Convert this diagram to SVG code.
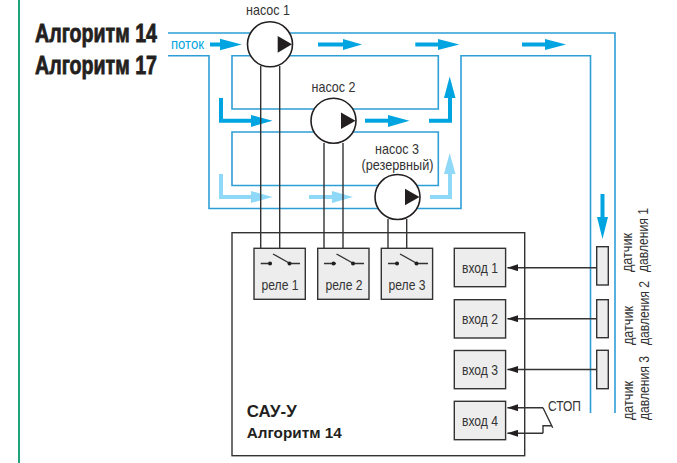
<svg xmlns="http://www.w3.org/2000/svg" width="677" height="463" viewBox="0 0 677 463">
<style>
text{font-family:"Liberation Sans",Arial,sans-serif;fill:#333}
.t{font-size:15px;text-anchor:middle}
.v{font-size:15px}
.title{font-size:25px;font-weight:bold;fill:#231f20;stroke:#231f20;stroke-width:.8}
.pipe{fill:none;stroke:#2e9fd6;stroke-width:1.6}
.wire{fill:none;stroke:#333;stroke-width:1.4}
.box{fill:#ededed;stroke:#333;stroke-width:1.4}
.pump{fill:#fff;stroke:#231f20;stroke-width:1.6}
.tri{fill:#231f20}
.d{fill:#00a4e0}
.l{fill:#8fd8f8}
.fd{fill:none;stroke:#00a4e0;stroke-width:4}
.fl{fill:none;stroke:#8fd8f8;stroke-width:4}
.dot{fill:#231f20}
</style>
<defs>
<marker id="ah" markerUnits="userSpaceOnUse" markerWidth="11" markerHeight="7" refX="10.5" refY="3.5" orient="auto"><path d="M0 0V7L11 3.5Z" fill="#231f20"/></marker>
</defs>
<rect x="18" y="0" width="2" height="463" fill="#1fa37a"/>
<g id="headings">
<text class="title" transform="translate(35 41.5) scale(.8 1)" textLength="152.5" lengthAdjust="spacingAndGlyphs">Алгоритм 14</text>
<text class="title" transform="translate(35 74) scale(.8 1)" textLength="152.5" lengthAdjust="spacingAndGlyphs">Алгоритм 17</text>
<text x="171" y="48.5" font-size="14" style="fill:#00a4e0" textLength="33" lengthAdjust="spacingAndGlyphs">поток</text>
</g>
<g id="connectors">
<g id="pipes">
<path class="pipe" d="M168 33H615V413"/>
<path class="pipe" d="M168 55.7H209V208.5H461V55.7H590.5V413"/>
<path class="pipe" d="M332 109H232V55.7H438.3V109H340"/>
<path class="pipe" d="M332 132H232V185.5H438.3V132H340"/>
</g>
<g id="flow">
<path class="d" d="M210 42.5H220V38.8L241.7 44.5L220 50.2V46.5H210Z"/>
<path class="d" d="M318 42.5H343V39L362 44.5L343 50V46.5H318Z"/>
<path class="d" d="M415.3 42.5H438V39L459.3 44.5L438 50V46.5H415.3Z"/>
<path class="d" d="M522 42.5H545V39L566 44.5L545 50V46.5H522Z"/>
<path class="fd" d="M221 98V120.7H252"/>
<path class="d" d="M251 115V127L272.5 120.7Z"/>
<path class="fd" d="M365 120.7H390"/>
<path class="d" d="M388 115V127L409.5 120.7Z"/>
<path class="fd" d="M429 120.7H450V96"/>
<path class="d" d="M444 98H455.5L449.7 76.5Z"/>
<path class="fl" d="M221 174V197H252"/>
<path class="l" d="M251 191V203L272.5 197Z"/>
<path class="fl" d="M309 197H332"/>
<path class="l" d="M332 191V203L353 197Z"/>
<path class="fl" d="M430 197H450V172"/>
<path class="l" d="M444 174H455.5L449.7 153Z"/>
<path class="fd" d="M602.5 194V218"/>
<path class="d" d="M597 217H608L602.5 239Z"/>
</g>
<g id="wires">
<path class="wire" d="M260.7 66V263.5H272"/>
<path class="wire" d="M279.7 66V248.5"/>
<path class="wire" d="M324 143V263.5H336"/>
<path class="wire" d="M343 143V248.5"/>
<path class="wire" d="M388 219V263.5H399"/>
<path class="wire" d="M406.7 219V248.5"/>
<path class="wire" d="M596.7 267.7H507.5" marker-end="url(#ah)"/>
<path class="wire" d="M596.7 318.7H507.5" marker-end="url(#ah)"/>
<path class="wire" d="M596.7 369.5H507.5" marker-end="url(#ah)"/>
<path class="wire" d="M543 407.7H507.5" marker-end="url(#ah)"/>
<path class="wire" d="M543 433.3H507.5" marker-end="url(#ah)"/>
<path class="wire" d="M543 407.7L552.7 427.7M543 433.3V425.7H552"/>
</g>
</g>
<g id="cau"><rect x="232" y="232.7" width="292.7" height="223" fill="none" stroke="#333" stroke-width="1.4"/>
<text x="246.7" y="416.7" font-size="17" font-weight="bold" style="fill:#231f20" textLength="50" lengthAdjust="spacingAndGlyphs">САУ-У</text>
<text x="246.7" y="438" font-size="14.5" font-weight="bold" style="fill:#231f20" textLength="95" lengthAdjust="spacingAndGlyphs">Алгоритм 14</text>
</g>
<g id="pump1"><circle class="pump" cx="270" cy="44.3" r="22.5"/><path class="tri" d="M277.7 36V52.7L292 44.3Z"/><text class="t" x="268" y="15" textLength="44" lengthAdjust="spacingAndGlyphs">насос 1</text></g>
<g id="pump2"><circle class="pump" cx="333.5" cy="120.7" r="22.5"/><path class="tri" d="M341 112.5V129L355.5 120.7Z"/><text class="t" x="333.5" y="92" textLength="44" lengthAdjust="spacingAndGlyphs">насос 2</text></g>
<g id="pump3"><circle class="pump" cx="397.5" cy="197" r="22.5"/><path class="tri" d="M405 188.7V205.3L419.5 197Z"/><text class="t" x="397" y="154" textLength="44" lengthAdjust="spacingAndGlyphs">насос 3</text><text class="t" x="397.5" y="169.5" textLength="72" lengthAdjust="spacingAndGlyphs">(резервный)</text></g>
<g id="relay1"><rect class="box" x="254" y="248.3" width="51.3" height="51"/><path class="wire" d="M260.7 263.5H272M289 263.5H300M273 254L290 263.5"/><circle class="dot" cx="270" cy="263.5" r="2"/><circle class="dot" cx="289.5" cy="263.5" r="2"/><text class="t" x="280" y="290" textLength="37" lengthAdjust="spacingAndGlyphs">реле 1</text></g>
<g id="relay2"><rect class="box" x="317.7" y="248.3" width="51.3" height="51"/><path class="wire" d="M324 263.5H336M353 263.5H364M336.5 254L353.5 263.5"/><circle class="dot" cx="333.5" cy="263.5" r="2"/><circle class="dot" cx="353" cy="263.5" r="2"/><text class="t" x="344" y="290" textLength="37" lengthAdjust="spacingAndGlyphs">реле 2</text></g>
<g id="relay3"><rect class="box" x="381.3" y="248.3" width="51.3" height="51"/><path class="wire" d="M388 263.5H399M416 263.5H428M400 254L417 263.5"/><circle class="dot" cx="397" cy="263.5" r="2"/><circle class="dot" cx="416.5" cy="263.5" r="2"/><text class="t" x="407" y="290" textLength="37" lengthAdjust="spacingAndGlyphs">реле 3</text></g>
<g id="in1"><rect class="box" x="454.3" y="248.3" width="51.3" height="38.4"/><text class="t" x="480" y="273" textLength="36" lengthAdjust="spacingAndGlyphs">вход 1</text></g>
<g id="in2"><rect class="box" x="454.3" y="299.7" width="51.3" height="38.3"/><text class="t" x="480" y="324" textLength="36" lengthAdjust="spacingAndGlyphs">вход 2</text></g>
<g id="in3"><rect class="box" x="454.3" y="350.5" width="51.3" height="38.2"/><text class="t" x="480" y="375" textLength="36" lengthAdjust="spacingAndGlyphs">вход 3</text></g>
<g id="in4"><rect class="box" x="454.3" y="401.3" width="51.3" height="38.4"/><text class="t" x="480" y="426" textLength="36" lengthAdjust="spacingAndGlyphs">вход 4</text></g>
<text class="t" x="564.5" y="411" textLength="33" lengthAdjust="spacingAndGlyphs">СТОП</text>
<g id="sensor1"><rect class="box" x="596.7" y="246.7" width="11.6" height="38.3"/>
<text class="v" transform="translate(632 272) rotate(-90)" textLength="39" lengthAdjust="spacingAndGlyphs">датчик</text>
<text class="v" transform="translate(648 272) rotate(-90)" textLength="64" lengthAdjust="spacingAndGlyphs">давления 1</text></g>
<g id="sensor2"><rect class="box" x="596.7" y="299.7" width="11.6" height="38"/>
<text class="v" transform="translate(633 345) rotate(-90)" textLength="39" lengthAdjust="spacingAndGlyphs">датчик</text>
<text class="v" transform="translate(649 345) rotate(-90)" textLength="64" lengthAdjust="spacingAndGlyphs">давления 2</text></g>
<g id="sensor3"><rect class="box" x="596.7" y="350.3" width="11.6" height="38.4"/>
<text class="v" transform="translate(633 420) rotate(-90)" textLength="39" lengthAdjust="spacingAndGlyphs">датчик</text>
<text class="v" transform="translate(649 420) rotate(-90)" textLength="64" lengthAdjust="spacingAndGlyphs">давления 3</text></g>
</svg>
